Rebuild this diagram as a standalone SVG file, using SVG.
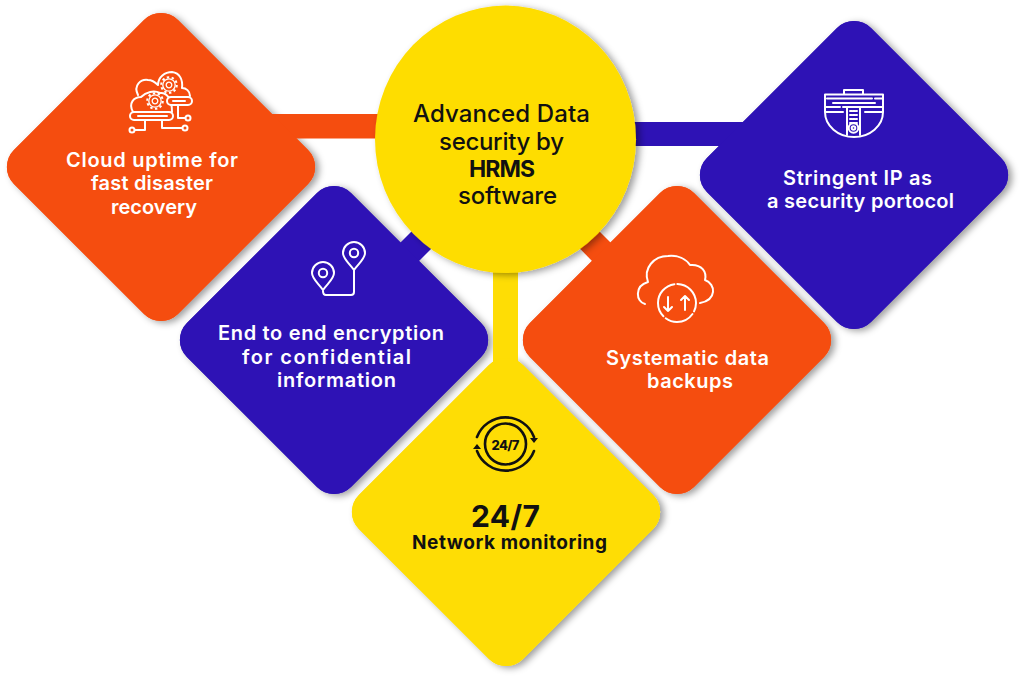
<svg xmlns="http://www.w3.org/2000/svg" width="1024" height="682" viewBox="0 0 1024 682">
<style>
text{font-family:"Inter","Open Sans","Liberation Sans",sans-serif;text-anchor:middle;font-weight:600;font-size:20px;fill:#fff}
.dk{fill:#111}
.orange{fill:#F54D0F}.blue{fill:#2E12B5}.yellow{fill:#FEDD05}
.ic{fill:none;stroke:#fff;stroke-width:2;stroke-linecap:round;stroke-linejoin:round}
.icd{fill:none;stroke:#111;stroke-width:2.6;stroke-linecap:round}
.gr{stroke-width:1.3;stroke-linecap:butt}
.s{filter:url(#sh)}
</style>
<defs>
<filter id="sh" x="-20%" y="-20%" width="140%" height="140%"><feDropShadow dx="4" dy="2" stdDeviation="3.500" flood-color="#000" flood-opacity=".38"/></filter>
<rect id="dia" x="-116" y="-116" width="232" height="232" rx="24" transform="rotate(45)"/>
<path id="pin" d="M0 17C-4 11-11 6-11 0A11 11 0 1 1 11 0C11 6 4 11 0 17Z"/>
<g id="gear" class="gr"><circle r="2.800"/><circle r="6.200"/><circle r="7.800" stroke-dasharray="2.400 2.500" stroke-width="2"/></g>
</defs>
<g id="shadows">
<use href="#dia" x="677" y="340" class="orange s"/>
<use href="#dia" x="334" y="340" class="blue s"/>
<use href="#dia" x="161" y="167" class="orange s"/>
<use href="#dia" x="854" y="175" class="blue s"/>
<use href="#dia" x="506" y="512" class="yellow s"/>
</g>
<g id="connectors">
<rect class="orange" x="262" y="114" width="125" height="24.500"/>
<rect class="blue" x="625" y="122" width="130" height="24"/>
<polygon class="blue" points="400,243 418,262 458,222 440,203"/>
<polygon class="orange" points="593,262 611,243 571,203 553,221"/>
<rect class="yellow" x="493" y="255" width="25" height="125"/>
</g>
<g id="node-backup">
<use href="#dia" x="677" y="340" class="orange"/>
<g class="ic">
<path d="M645 304C636 302 634 286 648 282C643 268 654 256 668 256C678 255 686 259 690 265C702 264 707 272 705 280C716 284 717 300 700 303"/>
<path d="M658 303A19 19 0 0 1 696 303A19 19 0 0 1 677 322A19 19 0 0 1 658 303" stroke-dasharray="27 3 38 3 30 3 18 0"/>
<path d="M668 297V311M664 307L668 311L672 307M685 310V296M681 300L685 296L689 300"/>
</g>
<text x="687.500" y="365" textLength="163">Systematic data</text>
<text x="690" y="388" textLength="86">backups</text>
</g>
<g id="node-encryption">
<use href="#dia" x="334" y="340" class="blue"/>
<g class="ic">
<use href="#pin" x="354" y="253"/><circle cx="354" cy="253" r="4.2"/>
<use href="#pin" x="323" y="273"/><circle cx="323" cy="273" r="4.2"/>
<path d="M354 270V292Q354 295 351 295H326Q323 295 323 291"/>
</g>
<text x="331" y="340" textLength="226">End to end encryption</text>
<text x="326.500" y="364" textLength="169">for confidential</text>
<text x="336.500" y="387" textLength="119">information</text>
</g>
<g id="node-cloud">
<use href="#dia" x="161" y="167" class="orange"/>
<g class="ic">
<path d="M138 95C133 85 141 79 148 80C151 80 155 82 158 85C158 77 165 72 172 72C180 73 183 80 182 88C186 88 190 91 190 96"/>
<path d="M133 112C128 103 134 97 141 97C146 92 154 90 160 93C166 92 172 98 172 112"/>
<rect x="130" y="112" width="43" height="8" rx="4"/>
<path d="M138 116H167"/>
<rect x="167" y="97" width="25" height="8" rx="4" fill="#F54D0F"/>
<path d="M173 101H185M178 105V118H185M145 120V130H135M162 120V128H182"/>
<circle cx="188" cy="118" r="2.5"/><circle cx="132" cy="130" r="2.5"/><circle cx="185" cy="128" r="2.5"/>
<use href="#gear" x="169" y="85"/><use href="#gear" x="155" y="101"/>
</g>
<text x="152" y="167" textLength="172">Cloud uptime for</text>
<text x="152" y="190" textLength="122">fast disaster</text>
<text x="154" y="214" textLength="86">recovery</text>
</g>
<g id="node-ip">
<use href="#dia" x="854" y="175" class="blue"/>
<g class="ic">
<path d="M844 94V90H863V94M825 94.500H883V112M825 94.500V112A29 25 0 0 0 883 112M827 98.500H872M875 98.500H882M833 103H875M825 107H840M843 107H883M825 112H843M865 112H883"/>
<path d="M847 108V135M860 108V135"/>
<path d="M850 111H857M850 115H857M850 119H857M850 123H857" stroke-dasharray="2 1"/>
<circle cx="853.500" cy="128" r="4.800"/><circle cx="853.500" cy="128" r="1.800"/>
</g>
<text x="857.500" y="185" textLength="149">Stringent IP as</text>
<text x="860.500" y="208" textLength="187">a security portocol</text>
</g>
<g id="node-monitoring">
<use href="#dia" x="506" y="512" class="yellow"/>
<g class="icd">
<circle cx="505.500" cy="444" r="20.500"/>
<path d="M477 437A30.500 30.500 0 0 1 534 437"/>
<path d="M534 451A30.500 30.500 0 0 1 477 451"/>
</g>
<path d="M530 438H538L534 443ZM473 449H481L477 444Z" fill="#111"/>
<text x="505.500" y="449.500" textLength="28" class="dk" style="font-size:13px;font-weight:800">24/7</text>
<text x="505.500" y="527" textLength="69" class="dk" style="font-size:30px;font-weight:700">24/7</text>
<text x="509.500" y="549" textLength="195" class="dk" style="font-size:19px;font-weight:700">Network monitoring</text>
</g>
<g id="node-center">
<ellipse class="yellow s" cx="505.500" cy="139.300" rx="130.500" ry="133.700"/>
<text x="501.500" y="122" textLength="177" class="dk" style="font-size:24px;font-weight:500">Advanced Data</text>
<text x="501.500" y="150" textLength="125" class="dk" style="font-size:24px;font-weight:500">security by</text>
<text x="502" y="177" textLength="66" class="dk" style="font-size:23px;font-weight:700">HRMS</text>
<text x="507.500" y="204" textLength="99" class="dk" style="font-size:24px;font-weight:500">software</text>
</g>
</svg>
